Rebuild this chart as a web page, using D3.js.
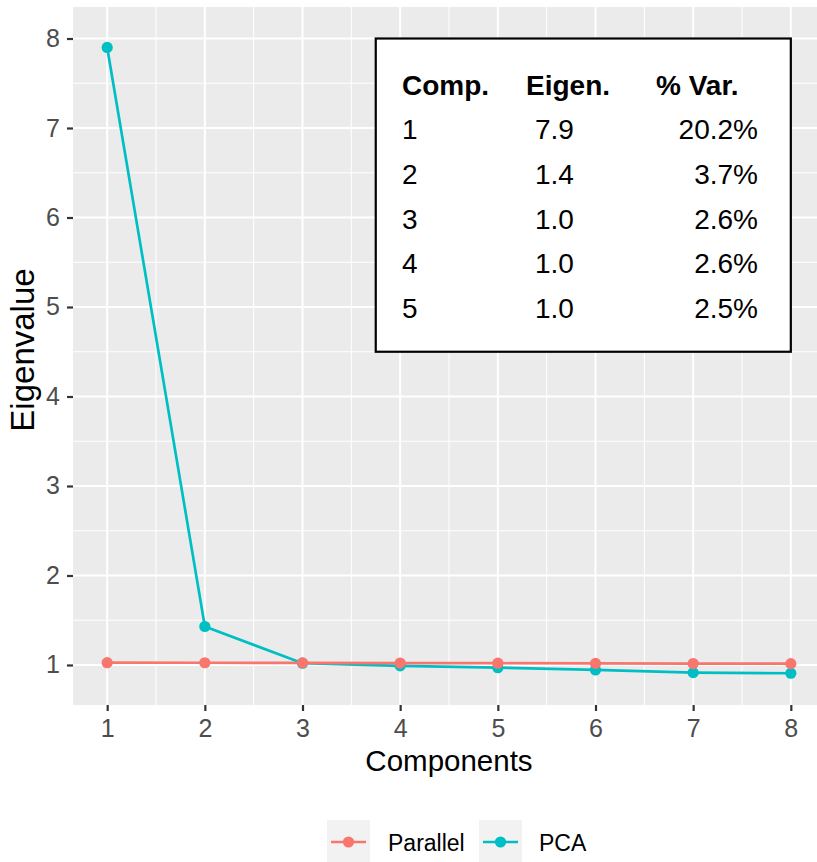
<!DOCTYPE html>
<html lang="en">
<head>
  <meta charset="UTF-8">
  <title>Scree plot</title>
  <script src="https://d3js.org/d3.v7.min.js"></script>
  <style>
    body { margin: 0; background: #fff; font-family: "Liberation Sans", Arial, sans-serif; }
    svg { display: block; }
  </style>
</head>
<body>
  <svg width="817" height="862"></svg>

  <script>
    // data
    const components = [1, 2, 3, 4, 5, 6, 7, 8];
    const pcaValues = [7.90, 1.43, 1.02, 0.99, 0.97, 0.945, 0.915, 0.908];
    const parallelValues = [1.026, 1.025, 1.024, 1.022, 1.020, 1.018, 1.016, 1.015];
    const xTicks = [1, 2, 3, 4, 5, 6, 7, 8];
    const yTicks = [1, 2, 3, 4, 5, 6, 7, 8];

    // summary table drawn in the corner
    const tableHeader = ["Comp.", "Eigen.", "% Var."];
    const tableComp = ["1", "2", "3", "4", "5"];
    const tableEigen = ["7.9", "1.4", "1.0", "1.0", "1.0"];
    const tableVar = ["20.2%", "3.7%", "2.6%", "2.6%", "2.5%"];

    const colors = { Parallel: "#F8766D", PCA: "#00BFC4" };

    const svg = d3.select("svg");
    const panel = { left: 73, top: 7, right: 825, bottom: 705 };

    const x = d3.scaleLinear().domain([0.65, 8.35]).range([panel.left, panel.right]);
    const y = d3.scaleLinear().domain([0.553, 8.352]).range([panel.bottom, panel.top]);

    // panel background
    svg.append("rect")
        .attr("x", panel.left).attr("y", panel.top)
        .attr("width", panel.right - panel.left).attr("height", panel.bottom - panel.top)
        .attr("fill", "#EBEBEB");

    const grid = svg.append("g");
    const minorX = d3.range(1.5, 8.5, 1);
    const minorY = d3.range(1.5, 8.5, 1).filter(v => y(v) > panel.top);

    grid.selectAll(".mx").data(minorX).enter().append("line")
        .attr("x1", d => x(d)).attr("x2", d => x(d))
        .attr("y1", panel.top).attr("y2", panel.bottom)
        .attr("stroke", "#fff").attr("stroke-width", 1);
    grid.selectAll(".my").data(minorY).enter().append("line")
        .attr("y1", d => y(d)).attr("y2", d => y(d))
        .attr("x1", panel.left).attr("x2", panel.right)
        .attr("stroke", "#fff").attr("stroke-width", 1);
    grid.selectAll(".Mx").data(xTicks).enter().append("line")
        .attr("x1", d => x(d)).attr("x2", d => x(d))
        .attr("y1", panel.top).attr("y2", panel.bottom)
        .attr("stroke", "#fff").attr("stroke-width", 2);
    grid.selectAll(".My").data(yTicks).enter().append("line")
        .attr("y1", d => y(d)).attr("y2", d => y(d))
        .attr("x1", panel.left).attr("x2", panel.right)
        .attr("stroke", "#fff").attr("stroke-width", 2);

    // axes
    const xAxis = svg.append("g")
        .attr("transform", `translate(0,${panel.bottom})`)
        .call(d3.axisBottom(x).tickValues(xTicks).tickSize(6).tickPadding(8).tickFormat(d3.format("d")));
    const yAxis = svg.append("g")
        .attr("transform", `translate(${panel.left},0)`)
        .call(d3.axisLeft(y).tickValues(yTicks).tickSize(6).tickPadding(7).tickFormat(d3.format("d")));
    [xAxis, yAxis].forEach(a => {
      a.select(".domain").remove();
      a.selectAll(".tick line").attr("stroke", "#333").attr("stroke-width", 2.2);
      a.selectAll(".tick text")
          .attr("fill", "#4D4D4D")
          .style("font-size", "25px")
          .style("font-family", "'Liberation Sans', Arial, sans-serif");
    });

    // series: PCA first, Parallel on top
    const series = [
      { name: "PCA", values: pcaValues },
      { name: "Parallel", values: parallelValues }
    ];
    const line = d3.line().x((d, i) => x(components[i])).y(d => y(d));

    series.forEach(s => {
      svg.append("path")
          .datum(s.values)
          .attr("d", line)
          .attr("fill", "none")
          .attr("stroke", colors[s.name])
          .attr("stroke-width", 2.7);
    });
    series.forEach(s => {
      svg.append("g").selectAll("circle")
        .data(s.values)
        .enter().append("circle")
          .attr("cx", (d, i) => x(components[i]))
          .attr("cy", d => y(d))
          .attr("r", 5.6)
          .attr("fill", colors[s.name]);
    });

    // table annotation box
    const box = { x0: 3.75, x1: 8.0, y0: 4.5, y1: 8.0 };
    svg.append("rect")
        .attr("x", x(box.x0)).attr("y", y(box.y1))
        .attr("width", x(box.x1) - x(box.x0)).attr("height", y(box.y0) - y(box.y1))
        .attr("fill", "#fff").attr("stroke", "#000").attr("stroke-width", 2.2);

    const table = svg.append("g").style("font-size", "28px").attr("fill", "#000");
    const colX = [402, 526, 656];
    const headerY = 95;
    const rowY = i => 139 + i * 44.8;
    table.selectAll(".hd").data(tableHeader).enter().append("text")
        .attr("x", (d, i) => colX[i]).attr("y", headerY)
        .attr("font-weight", "bold").text(d => d);
    table.selectAll(".c").data(tableComp).enter().append("text")
        .attr("x", colX[0]).attr("y", (d, i) => rowY(i)).text(d => d);
    table.selectAll(".e").data(tableEigen).enter().append("text")
        .attr("x", 535).attr("y", (d, i) => rowY(i)).text(d => d);
    table.selectAll(".v").data(tableVar).enter().append("text")
        .attr("x", 758).attr("y", (d, i) => rowY(i))
        .attr("text-anchor", "end").text(d => d);

    // axis titles
    svg.append("text")
        .attr("x", 449).attr("y", 771)
        .attr("text-anchor", "middle")
        .style("font-size", "29.5px")
        .text("Components");
    svg.append("text")
        .attr("transform", `translate(34,350) rotate(-90)`)
        .attr("text-anchor", "middle")
        .style("font-size", "33px")
        .text("Eigenvalue");

    // legend
    const legendItems = [
      { name: "Parallel", keyX: 327, labelX: 388 },
      { name: "PCA", keyX: 479, labelX: 539 }
    ];
    const legend = svg.append("g");
    legendItems.forEach(it => {
      const g = legend.append("g");
      g.append("rect")
          .attr("x", it.keyX).attr("y", 820)
          .attr("width", 43).attr("height", 43)
          .attr("fill", "#F2F2F2");
      g.append("line")
          .attr("x1", it.keyX + 4).attr("x2", it.keyX + 39)
          .attr("y1", 842).attr("y2", 842)
          .attr("stroke", colors[it.name]).attr("stroke-width", 2.7);
      g.append("circle")
          .attr("cx", it.keyX + 21.5).attr("cy", 842).attr("r", 5.6)
          .attr("fill", colors[it.name]);
      g.append("text")
          .attr("x", it.labelX).attr("y", 851)
          .style("font-size", "23px")
          .text(it.name);
    });
  </script>
</body>
</html>
